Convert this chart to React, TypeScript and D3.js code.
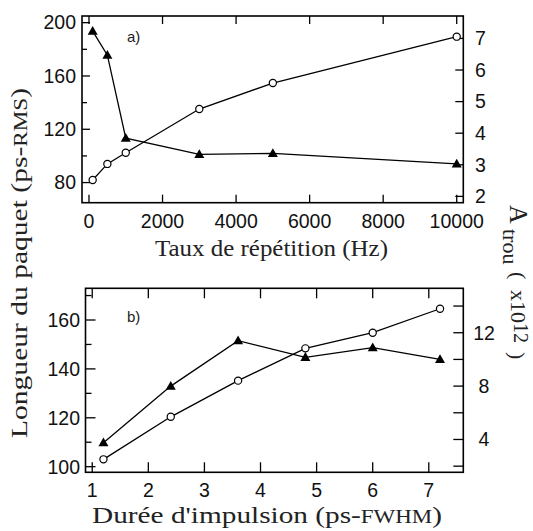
import React from 'react';
import * as d3 from 'd3';

// ---------- data ----------
const repRate = [100, 500, 1000, 3000, 5000, 10000];
const lengthRep = [81.9, 94.0, 102.4, 135.2, 154.7, 189.5];
const holeRep = [7.23, 6.47, 3.84, 3.33, 3.36, 3.03];

const pulseDur = [1.2, 2.4, 3.6, 4.8, 6.0, 7.2];
const lengthPulse = [103.0, 120.4, 135.2, 148.4, 154.8, 164.6];
const holePulse = [3.76, 8.0, 11.4, 10.16, 10.88, 10.0];

const xTicksA = [0, 2000, 4000, 6000, 8000, 10000];
const yLMajorA = [80, 120, 160, 200];
const yLMinorA = [100, 140, 180];
const yRTicksA = [2, 3, 4, 5, 6, 7];
const yRLabelsA = [2, 3, 4, 5, 6, 7];

const xTicksB = [1, 2, 3, 4, 5, 6, 7];
const yLMajorB = [100, 120, 140, 160];
const yLMinorB = [110, 130, 150, 170];
const yRTicksB = [2, 4, 6, 8, 10, 12, 14];
const yRLabelsB = [4, 8, 12];

const SANS = 'Liberation Sans';
const SERIF = 'Liberation Serif';

type PanelProps = {
  frame: { l: number; r: number; t: number; b: number };
  xDomain: [number, number];
  yLDomain: [number, number];
  yRDomain: [number, number];
  xTicks: number[];
  yLMajor: number[];
  yLMinor: number[];
  yRTicks: number[];
  yRLabels: number[];
  xs: number[];
  circ: number[];
  tri: number[];
  label: string;
  labelPos: [number, number];
  major: number;
  minor: number;
  leftLabelX: number;
  rightLabelX: number;
  rightAnchor: string;
  xLabelY: number;
};

const sansStyle = { fontFamily: SANS, fontSize: '19.5px' } as React.CSSProperties;
const serifStyle = { fontFamily: SERIF, fontSize: '23px' } as React.CSSProperties;
const serifSmall = { fontFamily: SERIF, fontSize: '22px' } as React.CSSProperties;

function Panel(p: PanelProps) {
  const { frame } = p;
  const x = d3.scaleLinear().domain(p.xDomain).range([frame.l, frame.r]);
  const yL = d3.scaleLinear().domain(p.yLDomain).range([frame.b, frame.t]);
  const yR = d3.scaleLinear().domain(p.yRDomain).range([frame.b, frame.t]);
  const line = d3.line<[number, number]>().x((d) => d[0]).y((d) => d[1]);
  const circPts: [number, number][] = p.xs.map((v, i) => [x(v), yL(p.circ[i])]);
  const triPts: [number, number][] = p.xs.map((v, i) => [x(v), yR(p.tri[i])]);
  const tri = (cx: number, cy: number) =>
    `M${cx},${cy - 5.2}L${cx + 5},${cy + 3.6}L${cx - 5},${cy + 3.6}Z`;
  return (
    <g>
      {p.xTicks.map((t) => (
        <g key={'x' + t}>
          <line x1={x(t)} x2={x(t)} y1={frame.b} y2={frame.b - p.major} stroke="#000" strokeWidth={1.3} />
          <line x1={x(t)} x2={x(t)} y1={frame.t} y2={frame.t + p.major} stroke="#000" strokeWidth={1.3} />
          <text x={x(t)} y={p.xLabelY} textAnchor="middle" style={sansStyle} fill="#111">
            {t}
          </text>
        </g>
      ))}
      {p.yLMajor.map((t) => (
        <g key={'yl' + t}>
          <line x1={frame.l} x2={frame.l + p.major} y1={yL(t)} y2={yL(t)} stroke="#000" strokeWidth={1.3} />
          <text x={p.leftLabelX} y={yL(t)} dy="0.35em" textAnchor="end" style={sansStyle} fill="#111">
            {t}
          </text>
        </g>
      ))}
      {p.yLMinor.map((t) => (
        <line key={'ylm' + t} x1={frame.l} x2={frame.l + p.minor} y1={yL(t)} y2={yL(t)} stroke="#000" strokeWidth={1.3} />
      ))}
      {p.yRTicks.map((t) => (
        <line key={'yr' + t} x1={frame.r} x2={frame.r - p.major} y1={yR(t)} y2={yR(t)} stroke="#000" strokeWidth={1.3} />
      ))}
      {p.yRLabels.map((t) => (
        <text key={'yrl' + t} x={p.rightLabelX} y={yR(t)} dy="0.35em" textAnchor={p.rightAnchor} style={sansStyle} fill="#111">
          {t}
        </text>
      ))}
      <rect x={frame.l} y={frame.t} width={frame.r - frame.l} height={frame.b - frame.t} fill="none" stroke="#000" strokeWidth={1.6} />
      <path d={line(triPts) || ''} fill="none" stroke="#000" strokeWidth={1.3} />
      <path d={line(circPts) || ''} fill="none" stroke="#000" strokeWidth={1.3} />
      {triPts.map((d, i) => (
        <path key={'t' + i} d={tri(d[0], d[1])} fill="#000" />
      ))}
      {circPts.map((d, i) => (
        <circle key={'c' + i} cx={d[0]} cy={d[1]} r={3.6} fill="#fff" stroke="#000" strokeWidth={1.2} />
      ))}
      <text x={p.labelPos[0]} y={p.labelPos[1]} style={{ fontFamily: SANS, fontSize: '15px' }} fill="#222">
        {p.label}
      </text>
    </g>
  );
}

export default function App() {
  const rt = (x: number, y: number) => `translate(${x},${y}) rotate(90)`;
  return (
    <svg
      width={533}
      height={531}
      viewBox="0 0 533 531"
      style={{ position: 'absolute', left: 0, top: 0, background: '#fff' }}
    >
      <rect x={0} y={0} width={533} height={531} fill="#fff" />
      <Panel
        frame={{ l: 82, r: 463.3, t: 16, b: 202.7 }}
        xDomain={[-190, 10179]}
        yLDomain={[64.9, 205.0]}
        yRDomain={[1.8, 7.71]}
        xTicks={xTicksA}
        yLMajor={yLMajorA}
        yLMinor={yLMinorA}
        yRTicks={yRTicksA}
        yRLabels={yRLabelsA}
        xs={repRate}
        circ={lengthRep}
        tri={holeRep}
        label="a)"
        labelPos={[127, 42]}
        major={8}
        minor={5}
        leftLabelX={76}
        rightLabelX={475}
        rightAnchor="start"
        xLabelY={228}
      />
      <Panel
        frame={{ l: 85.5, r: 463.3, t: 288.3, b: 472.3 }}
        xDomain={[0.88, 7.615]}
        yLDomain={[97.7, 172.97]}
        yRDomain={[1.54, 15.33]}
        xTicks={xTicksB}
        yLMajor={yLMajorB}
        yLMinor={yLMinorB}
        yRTicks={yRTicksB}
        yRLabels={yRLabelsB}
        xs={pulseDur}
        circ={lengthPulse}
        tri={holePulse}
        label="b)"
        labelPos={[127, 322]}
        major={10}
        minor={6}
        leftLabelX={80}
        rightLabelX={484}
        rightAnchor="middle"
        xLabelY={497}
      />
      <text x={155} y={256} textLength={233} lengthAdjust="spacingAndGlyphs" style={serifStyle} fill="#222">
        Taux de répétition (Hz)
      </text>
      <text x={92} y={523} textLength={350} lengthAdjust="spacingAndGlyphs" style={serifStyle} fill="#222">
        Durée d'impulsion (ps-<tspan style={{ fontSize: '18px' }}>FWHM</tspan>)
      </text>
      <text
        transform="translate(27,438) rotate(-90)"
        textLength={350}
        lengthAdjust="spacingAndGlyphs"
        style={serifStyle}
        fill="#222"
      >
        Longueur du paquet (ps-<tspan style={{ fontSize: '18px' }}>RMS</tspan>)
      </text>
      <text transform={rt(510, 205)} style={{ fontFamily: SERIF, fontSize: '26px' }} fill="#222">A</text>
      <text transform={rt(503, 229)} style={serifSmall} fill="#222">trou</text>
      <text transform={rt(511, 272)} style={serifSmall} fill="#222">(</text>
      <text transform={rt(511, 290)} style={serifSmall} fill="#222">x10</text>
      <text transform={rt(514, 323)} style={{ fontFamily: SERIF, fontSize: '20px' }} fill="#222">12</text>
      <text transform={rt(510, 352)} style={serifSmall} fill="#222">)</text>
    </svg>
  );
}
